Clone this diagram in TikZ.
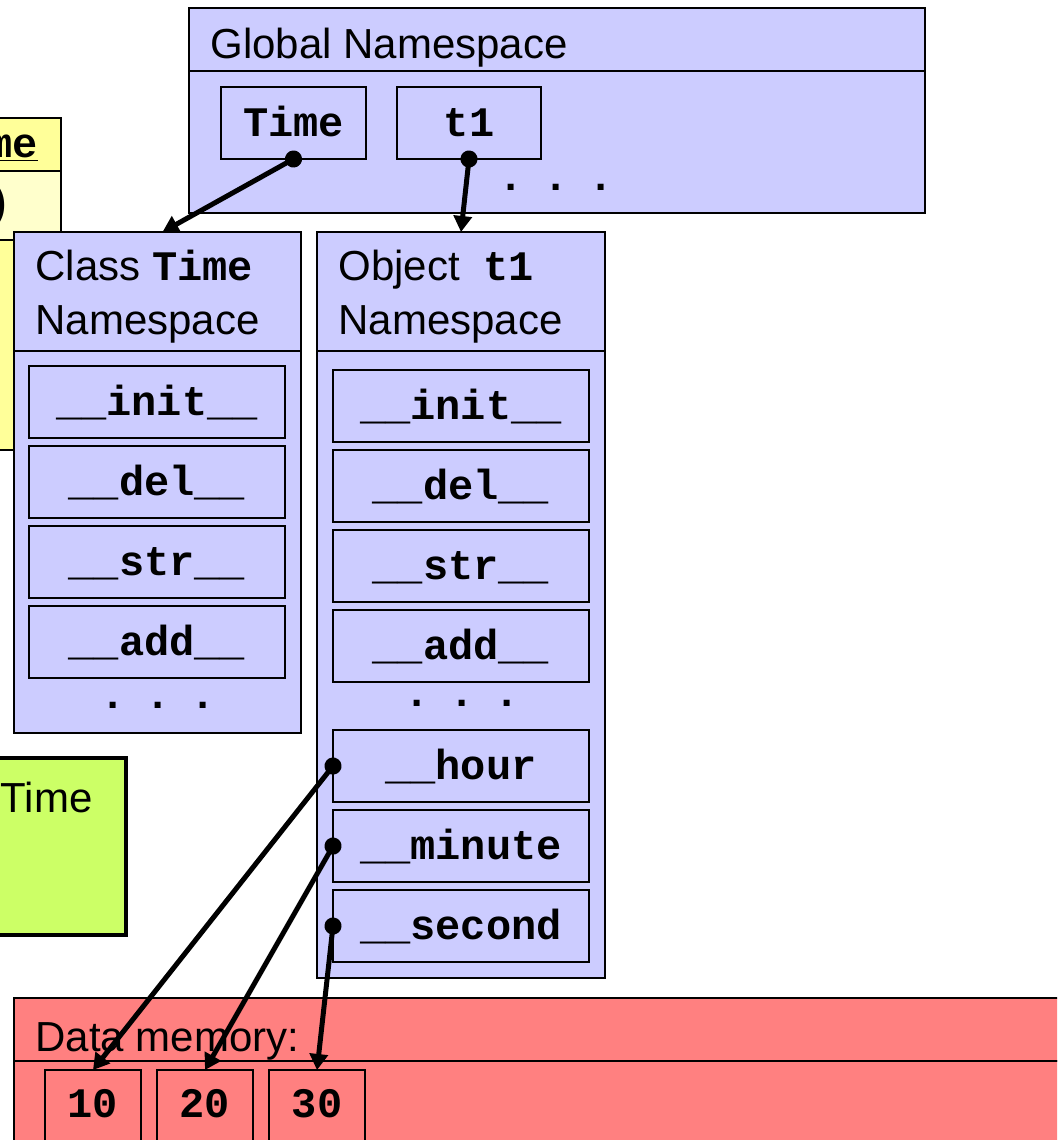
\documentclass[tikz,border=0pt]{standalone}
\usepackage{fontspec}
\setmainfont{Liberation Sans}
\setmonofont{Liberation Mono}
\usetikzlibrary{arrows.meta}

\definecolor{nsblue}{HTML}{CCCCFF}
\definecolor{clsyellow}{HTML}{FFFF99}
\definecolor{clspale}{HTML}{FFFFCC}
\definecolor{notegreen}{HTML}{CCFF66}
\definecolor{memred}{HTML}{FF8080}

\newcommand{\slidefont}{\fontsize{21pt}{27.5pt}\selectfont}
\newcommand{\codetxt}[1]{{\ttfamily\bfseries #1}}
\newcommand{\ellipsisrow}{.\kern9.9pt.\kern9.9pt.}

\begin{document}
\begin{tikzpicture}[x=0.5pt, y=-0.5pt,
  box/.style={draw, line width=1pt, anchor=north west, inner sep=0pt, outer sep=0pt},
  nsbox/.style={box, fill=nsblue},
  slot/.style={nsbox, line width=0.9pt, minimum width=128pt, minimum height=36pt,
    text height=16pt, text depth=3pt, font=\slidefont\ttfamily\bfseries},
  txt/.style={anchor=base west, inner sep=0pt, font=\slidefont},
  dotrow/.style={anchor=base, inner sep=0pt, font=\slidefont\ttfamily\bfseries},
  memcell/.style={box, fill=memred, line width=0.75pt, minimum width=48pt,
    text height=23.5pt, text depth=41.5pt, font=\slidefont\ttfamily\bfseries},
  conn/.style={line width=2.5pt, {Circle[length=8.5pt]}-{Triangle[length=8pt,width=9pt]},
    shorten <=-4.25pt}]

\useasboundingbox (0,0) rectangle (1057,1140);
\clip (0,0) rectangle (1057,1140);

% class definition card, partly hidden at the left edge
\node[box, fill=clsyellow, minimum width=80.5pt, minimum height=26.5pt] (ydefh) at (-100,118) {};
\node[box, fill=clspale, minimum width=80.5pt, minimum height=34.5pt] (ydefsig) at (ydefh.south west) {};
\node[box, fill=clsyellow, minimum width=80.5pt, minimum height=105pt] (ydefbody) at (ydefsig.south west) {};
\node[anchor=base east, inner sep=0pt, font=\slidefont\ttfamily\bfseries] (ydeftitle) at (38,157) {\underline{Time}};
\node[anchor=base east, inner sep=0pt, font=\slidefont\ttfamily\bfseries] (ydefparen) at (12,216) {)};

% note card
\node[box, fill=notegreen, line width=1.8pt, minimum width=113pt, minimum height=88.5pt] (note) at (-100,758) {};
\node[anchor=base east, inner sep=0pt, font=\slidefont] (notetext) at (93,812) {Time};

% global namespace
\node[nsbox, minimum width=368pt, minimum height=31.5pt] (glh) at (189,8) {};
\node[nsbox, minimum width=368pt, minimum height=71pt] (glbody) at (glh.south west) {};
\node[txt] (gltitle) at (210,58) {Global Namespace};
\node[slot, minimum width=72.5pt] (gtime) at (221,87) {Time};
\node[slot, minimum width=72pt] (gt1) at (397,87) {t1};
\node[dotrow] (gldots) at (556,190) {\ellipsisrow};

% class Time namespace
\node[nsbox, minimum width=143.5pt, minimum height=59.5pt] (clh) at (14,232) {};
\node[nsbox, minimum width=143.5pt, minimum height=191pt] (clbody) at (clh.south west) {};
\node[txt] (cltitlea) at (35,280) {Class \codetxt{Time}};
\node[txt] (cltitleb) at (35,334) {Namespace};
\node[slot] (clinit) at (29,366) {\_\_init\_\_};
\node[slot] (cldel) at (29,446) {\_\_del\_\_};
\node[slot] (clstr) at (29,526) {\_\_str\_\_};
\node[slot] (cladd) at (29,606) {\_\_add\_\_};
\node[dotrow] (cldots) at (158,708) {\ellipsisrow};

% object t1 namespace
\node[nsbox, minimum width=144pt, minimum height=59.5pt] (obh) at (317,232) {};
\node[nsbox, minimum width=144pt, minimum height=313.5pt] (obbody) at (obh.south west) {};
\node[txt] (obtitlea) at (338,280) {Object~ \codetxt{t1}};
\node[txt] (obtitleb) at (338,334) {Namespace};
\node[slot] (obinit) at (333,370) {\_\_init\_\_};
\node[slot] (obdel) at (333,450) {\_\_del\_\_};
\node[slot] (obstr) at (333,530) {\_\_str\_\_};
\node[slot] (obadd) at (333,610) {\_\_add\_\_};
\node[dotrow] (obdots) at (462,706) {\ellipsisrow};
\node[slot] (obhour) at (333,730) {\_\_hour};
\node[slot] (obminute) at (333,810) {\_\_minute};
\node[slot] (obsecond) at (333,890) {\_\_second};

% data memory
\node[box, fill=memred, minimum width=543pt, minimum height=31.5pt] (memh) at (14,998) {};
\node[box, fill=memred, minimum width=543pt, minimum height=69.5pt] (membody) at (memh.south west) {};
\node[txt] (memtitle) at (35,1051) {Data memory:};
\node[memcell] (v10) at (45,1070) {10};
\node[memcell] (v20) at (157,1070) {20};
\node[memcell] (v30) at (269,1070) {30};

% references
\draw[conn] (gtime.south) -- ([xshift=2.5pt]clh.north);
\draw[conn] (gt1.south) -- (obh.north);
\draw[conn] (obhour.west) -- (v10.north);
\draw[conn] (obminute.west) -- (v20.north);
\draw[conn] (obsecond.west) -- (v30.north);
\end{tikzpicture}
\end{document}
